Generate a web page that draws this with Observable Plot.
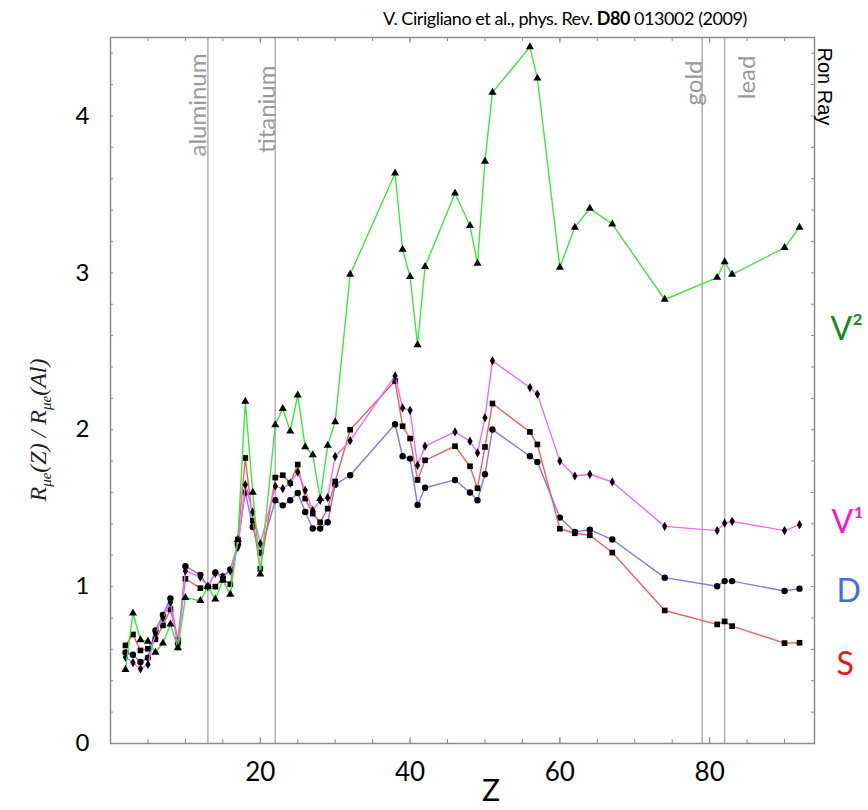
<!DOCTYPE html>
<html><head><meta charset="utf-8">
<script src="https://cdn.jsdelivr.net/npm/d3@7"></script>
<script src="https://cdn.jsdelivr.net/npm/@observablehq/plot@0.6"></script>
<style>
body{margin:0;background:#fff;}
#wrap{position:relative;width:868px;height:810px;overflow:hidden;}
#chart{position:absolute;left:0;top:0;}
#title{position:absolute;left:383px;top:7px;font:18px Lato;letter-spacing:-0.45px;white-space:nowrap;color:#000;}
#ylab{position:absolute;left:40px;top:430px;transform:translate(-50%,-50%) rotate(-90deg);font:italic 24px "Liberation Serif";white-space:nowrap;color:#222;}
#ylab sub{font-size:15px;}
#zlab{position:absolute;left:491px;top:789px;transform:translate(-50%,-50%);font:30px Lato;line-height:1;color:#000;}
</style></head><body>
<div id="wrap">
<div id="chart"></div>
<div id="title">V. Cirigliano et al., phys. Rev. <b>D80</b> 013002 (2009)</div>
<div id="ylab">R<sub>μe</sub>(Z) / R<sub>μe</sub>(Al)</div>
<div id="zlab">Z</div>
</div>
<script>
// Atomic number of each target nucleus
const Z = [2,3,4,5,6,7,8,9,10,12,13,14,15,16,17,18,19,20,22,23,24,25,26,27,28,29,30,32,38,39,40,41,42,46,48,49,50,51,56,57,60,62,64,67,74,81,82,83,90,92];
// Ratio R(Z)/R(Al) for each model
const V2 = [0.47,0.83,0.66,0.65,0.58,0.64,0.76,0.61,0.93,0.91,1.0,0.92,1.04,0.95,1.30,2.18,1.60,1.08,2.03,2.135,1.99,2.22,1.89,1.84,1.56,1.90,2.05,2.99,3.635,3.15,2.975,2.54,3.04,3.507,3.30,3.06,3.71,4.15,4.44,4.24,3.035,3.29,3.41,3.31,2.83,2.97,3.07,2.99,3.16,3.29];
const V1 = [0.55,0.515,0.476,0.504,0.70,0.80,0.90,0.62,1.10,1.06,1.0,1.085,1.06,1.10,1.25,1.65,1.476,1.274,1.64,1.625,1.66,1.73,1.614,1.486,1.55,1.567,1.83,1.93,2.343,2.139,2.124,1.773,1.895,1.986,1.927,1.852,2.077,2.439,2.269,2.227,1.80,1.705,1.716,1.667,1.384,1.357,1.404,1.416,1.357,1.395];
const D  = [0.58,0.566,0.519,0.547,0.72,0.82,0.925,0.64,1.13,1.075,1.0,1.09,1.065,1.11,1.27,1.60,1.38,1.214,1.55,1.518,1.55,1.597,1.476,1.37,1.37,1.41,1.65,1.71,2.035,1.831,1.816,1.52,1.63,1.68,1.60,1.55,1.716,2.001,1.831,1.795,1.44,1.348,1.363,1.30,1.057,1.002,1.035,1.035,0.972,0.987];
const S  = [0.625,0.695,0.593,0.604,0.664,0.753,0.855,0.66,1.05,0.99,1.0,1.0,1.05,1.015,1.30,1.82,1.42,1.114,1.695,1.71,1.66,1.778,1.561,1.465,1.41,1.497,1.67,2.0,2.311,2.022,1.944,1.68,1.805,1.895,1.767,1.627,1.89,2.167,1.986,1.906,1.369,1.34,1.327,1.217,0.848,0.759,0.778,0.748,0.64,0.642];
// Reference nuclei marked with vertical lines
const elementNames = ["aluminum","titanium","gold","lead"];
const elementZ = [13,22,79,82];
// Tick values
const yTicks = [0,1,2,3,4];
const xTicks = [20,40,60,80];
const seriesNames = ["V\u00B2","V\u00B9","D","S"];

const rows = vals => Z.map((z,i) => ({Z: z, v: vals[i]}));
const xMinor = d3.range(5, 94, 5);
const yMinor = d3.range(0.2, 4.5, 0.2).map(d => +d.toFixed(1));
const W = 704, H = 706;
const gray = "#8c8c8c";

function series(vals, color, symbol, r) {
  const data = rows(vals);
  return [
    Plot.line(data, {x: "Z", y: "v", stroke: color, strokeWidth: 1.4}),
    Plot.dot(data, {x: "Z", y: "v", symbol, r, fill: "#000", stroke: "none"})
  ];
}
function elemLabel(i, dx, dy) {
  return Plot.text([elementNames[i]], {x: [elementZ[i]], text: d => d, frameAnchor: "top", rotate: -90, textAnchor: "end", dx, dy, fill: "#9a9a9a", fontSize: 24, fontFamily: "Lato"});
}

const chart = Plot.plot({
  width: 868, height: 810,
  marginTop: 37, marginBottom: 67, marginLeft: 110, marginRight: 54,
  x: {domain: [0, 94]},
  y: {domain: [0, 4.5]},
  style: {fontFamily: "Lato", background: "white", overflow: "visible"},
  marks: [
    Plot.ruleX(elementZ, {stroke: "#b4b4b4", strokeWidth: 1.6}),
    ...series(D, "#7b7bf7", "circle", 3.2),
    ...series(S, "#f55d5d", "square", 3.2),
    ...series(V1, "#f56af5", "diamond", 2.8),
    ...series(V2, "#3de63d", "triangle", 3),
    Plot.frame({stroke: gray, strokeWidth: 1.5}),
    Plot.ruleX(xMinor, {insetTop: H - 4, stroke: gray}),
    Plot.ruleX(xTicks, {insetTop: H - 6, stroke: gray}),
    Plot.ruleX(xMinor, {insetBottom: H - 4, stroke: gray}),
    Plot.ruleX(xTicks, {insetBottom: H - 6, stroke: gray}),
    Plot.ruleY(yMinor, {insetRight: W - 3, stroke: gray}),
    Plot.ruleY(yMinor, {insetLeft: W - 3, stroke: gray}),
    Plot.axisX(xTicks, {tickSize: 0, tickPadding: 19, fontSize: 26, label: null, fill: "#000", tickFormat: d => String(d)}),
    Plot.axisY(yTicks, {tickSize: 0, tickPadding: 21, fontSize: 24, label: null, fill: "#000", tickFormat: d => String(d)}),
    elemLabel(0, -19, 16),
    elemLabel(1, -17, 28),
    elemLabel(2, -17, 23),
    elemLabel(3, 13, 18),
    Plot.text(["Ron Ray"], {frameAnchor: "top-right", rotate: 90, textAnchor: "start", dx: 18, dy: 10, fontSize: 20, fontFamily: "Liberation Sans", fill: "#000"}),
    Plot.text([seriesNames[0]], {frameAnchor: "right", y: [2.64], textAnchor: "start", dx: 16, fontSize: 32, fill: "#178a17"}),
    Plot.text([seriesNames[1]], {frameAnchor: "right", y: [1.41], textAnchor: "start", dx: 17, fontSize: 32, fill: "#ff14c8"}),
    Plot.text([seriesNames[2]], {frameAnchor: "right", y: [0.97], textAnchor: "start", dx: 22, fontSize: 32, fill: "#3a6cf4"}),
    Plot.text([seriesNames[3]], {frameAnchor: "right", y: [0.50], textAnchor: "start", dx: 22, fontSize: 32, fill: "#f51414"})
  ]
});
document.getElementById("chart").appendChild(chart);
</script>
</body></html>
